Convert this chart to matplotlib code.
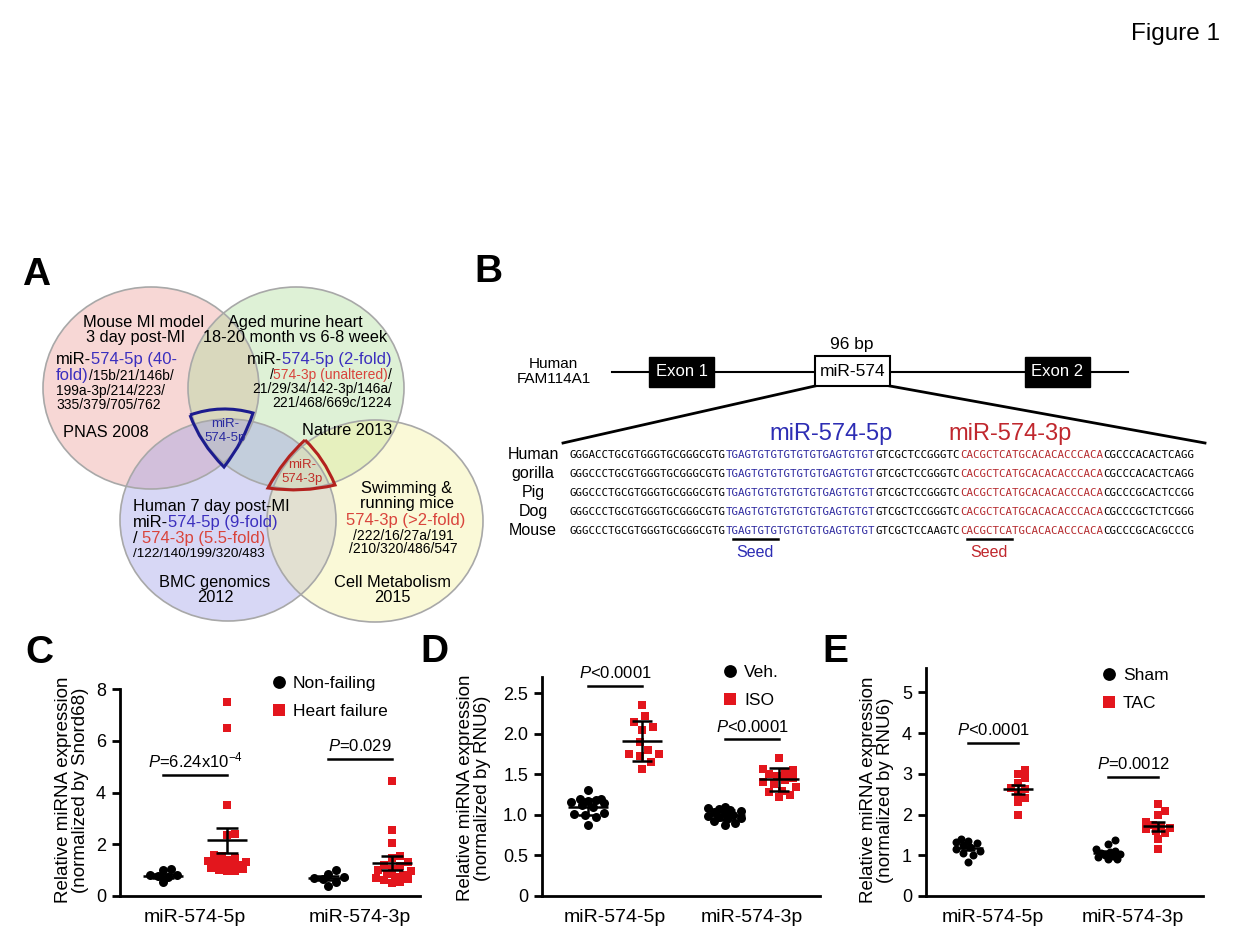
import numpy as np
import matplotlib
matplotlib.use("Agg")
import matplotlib.pyplot as plt
from matplotlib.patches import Ellipse, Rectangle, PathPatch
from matplotlib.path import Path

plt.rcParams['font.family'] = ['Liberation Sans', 'DejaVu Sans']
plt.rcParams['mathtext.fontset'] = 'custom'
plt.rcParams['mathtext.rm'] = 'Liberation Sans'
plt.rcParams['mathtext.it'] = 'Liberation Sans:italic'

BLUE = '#3b2fbe'
RED = '#d9443c'
SEQ_BLUE = '#2e2aa0'
SEQ_RED = '#b52a2e'
PT_RED = '#e3161d'

# ---------------- data ----------------
categories = ['miR-574-5p', 'miR-574-3p']

# C: human hearts (normalized by Snord68)
c_nonfailing_5p = [0.55, 0.75, 0.78, 0.8, 0.82, 1.0, 1.05]
c_nonfailing_3p = [0.4, 0.55, 0.65, 0.7, 0.72, 0.85, 1.0]
c_hf_5p = [7.5, 6.5, 3.5, 2.4, 2.35, 1.6, 1.55, 1.45, 1.4, 1.35, 1.3, 1.3,
           1.25, 1.2, 1.15, 1.1, 1.05, 1.0, 0.95, 0.95]
c_hf_3p = [4.45, 2.55, 2.05, 1.55, 1.45, 1.3, 1.2, 1.15, 1.05, 1.0, 0.95,
           0.85, 0.8, 0.75, 0.7, 0.65, 0.6, 0.55, 0.5]
c_nonfailing_mean = [0.78, 0.68]
c_nonfailing_err = [0.08, 0.08]
c_hf_mean = [2.15, 1.27]
c_hf_err = [0.47, 0.27]
c_pvalue = [r'$\mathit{P}$=6.24x10$^{-4}$', r'$\mathit{P}$=0.029']
c_pline = [4.67, 5.29]

# D: Veh vs ISO (normalized by RNU6)
d_veh_5p = [1.31, 1.2, 1.19, 1.18, 1.17, 1.16, 1.15, 1.12, 1.1, 1.02, 1.01, 1.0, 0.98, 0.88]
d_veh_3p = [1.1, 1.08, 1.07, 1.06, 1.05, 1.04, 1.02, 1.0, 0.99, 0.98, 0.96, 0.95, 0.93, 0.9, 0.87]
d_iso_5p = [2.35, 2.22, 2.15, 2.08, 2.05, 1.9, 1.8, 1.75, 1.72, 1.75, 1.65, 1.57]
d_iso_3p = [1.7, 1.57, 1.55, 1.52, 1.5, 1.48, 1.45, 1.43, 1.4, 1.38, 1.35, 1.3, 1.28, 1.25, 1.22]
d_veh_mean = [1.1, 1.0]
d_veh_err = [0.1, 0.06]
d_iso_mean = [1.91, 1.44]
d_iso_err = [0.25, 0.14]
d_pvalue = [r'$\mathit{P}$<0.0001', r'$\mathit{P}$<0.0001']
d_pline = [2.59, 1.93]

# E: Sham vs TAC (normalized by RNU6)
e_sham_5p = [1.4, 1.35, 1.32, 1.3, 1.25, 1.2, 1.15, 1.1, 1.05, 1.0, 0.83]
e_sham_3p = [1.38, 1.28, 1.15, 1.1, 1.08, 1.05, 1.02, 1.0, 0.98, 0.95, 0.92, 0.9]
e_tac_5p = [3.1, 3.0, 2.9, 2.77, 2.65, 2.62, 2.5, 2.4, 2.3, 1.98]
e_tac_3p = [2.25, 2.1, 1.98, 1.82, 1.75, 1.72, 1.68, 1.65, 1.6, 1.55, 1.4, 1.15]
e_sham_mean = [1.17, 1.06]
e_sham_err = [0.05, 0.04]
e_tac_mean = [2.62, 1.71]
e_tac_err = [0.11, 0.11]
e_pvalue = [r'$\mathit{P}$<0.0001', r'$\mathit{P}$=0.0012']
e_pline = [3.77, 2.92]

# B: pre-miR-574 alignment (black / 5p / loop / 3p / black)
species = ['Human', 'gorilla', 'Pig', 'Dog', 'Mouse']
seq_head = ['GGGACCTGCGTGGGTGCGGGCGTG', 'GGGCCCTGCGTGGGTGCGGGCGTG', 'GGGCCCTGCGTGGGTGCGGGCGTG',
            'GGGCCCTGCGTGGGTGCGGGCGTG', 'GGGCCCTGCGTGGGTGCGGGCGTG']
seq_5p = 'TGAGTGTGTGTGTGTGAGTGTGT'
seq_loop = ['GTCGCTCCGGGTC', 'GTCGCTCCGGGTC', 'GTCGCTCCGGGTC', 'GTCGCTCCGGGTC', 'GTCGCTCCAAGTC']
seq_3p = 'CACGCTCATGCACACACCCACA'
seq_tail = ['CGCCCACACTCAGG', 'CGCCCACACTCAGG', 'CGCCCGCACTCCGG', 'CGCCCGCTCTCGGG', 'CGCCCGCACGCCCG']

# ---------------- figure ----------------
W, H = 1240, 952
fig = plt.figure(figsize=(W / 100, H / 100), dpi=100)
bg = fig.add_axes([0, 0, 1, 1])
bg.set_xlim(0, W)
bg.set_ylim(H, 0)
bg.axis('off')
renderer = fig.canvas.get_renderer()


def color_line(x, y, parts, size, ha='left'):
    """several coloured pieces of text on one baseline"""
    items = []
    for p in parts:
        s, col = p[0], p[1]
        fs = p[2] if len(p) > 2 else size
        t = bg.text(0, y, s, color=col, fontsize=fs, va='baseline', ha='left')
        items.append((t, t.get_window_extent(renderer).width))
    total = sum(w for _, w in items)
    x0 = {'left': x, 'center': x - total / 2, 'right': x - total}[ha]
    for t, w in items:
        t.set_x(x0)
        x0 += w


def say(x, y, s, size, ha='center', color='k', **kw):
    bg.text(x, y, s, fontsize=size, ha=ha, va='baseline', color=color, **kw)


# panel letters
for lab, x, y in [('A', 22, 285), ('B', 474, 282), ('C', 25, 663), ('D', 420, 662), ('E', 822, 662)]:
    say(x, y, lab, 28, ha='left', fontweight='bold')
say(1220, 40, 'Figure 1', 17.5, ha='right')

# ---------------- A: venn ----------------
venn = [((151, 388), '#ed9b96'), ((296, 388), '#addc99'),
        ((228, 520), '#9b9be6'), ((375, 521), '#f3f09b')]
for (cx, cy), col in venn:
    bg.add_patch(Ellipse((cx, cy), 216, 202, fc=col, alpha=0.4, ec='none'))
for (cx, cy), col in venn:
    bg.add_patch(Ellipse((cx, cy), 216, 202, fc='none', ec='#a8a8a8', lw=1.2))


def curved_tri(p1, c1, p2, c2, p3, c3, col):
    verts = [p1, c1, p2, c2, p3, c3, p1]
    codes = [Path.MOVETO] + [Path.CURVE3] * 6
    bg.add_patch(PathPatch(Path(verts, codes), fc='none', ec=col, lw=2.2, joinstyle='miter'))


curved_tri((190, 415), (221, 404), (253, 413), (244, 441), (224, 467), (200, 443), '#1c1c8e')
curved_tri((305, 440), (324, 458), (335, 485), (302, 493), (268, 488), (283, 460), '#b3221e')

VS = 11.8
SM = 10
say(83, 327, 'Mouse MI model', VS, ha='left')
say(86, 342, '3 day post-MI', VS, ha='left')
color_line(56, 364, [('miR-', 'k'), ('574-5p (40-', BLUE)], 12)
color_line(56, 380, [('fold)', BLUE, 12), ('/15b/21/146b/', 'k', SM)], SM)
say(56, 395, '199a-3p/214/223/', SM, ha='left')
say(56, 409, '335/379/705/762', SM, ha='left')
say(63, 437, 'PNAS 2008', VS, ha='left')

say(295, 327, 'Aged murine heart', VS)
say(295, 342, '18-20 month vs 6-8 week', VS)
color_line(392, 364, [('miR-', 'k'), ('574-5p (2-fold)', BLUE)], 12, ha='right')
color_line(392, 379, [('/', 'k'), ('574-3p (unaltered)', RED), ('/', 'k')], SM, ha='right')
say(392, 393, '21/29/34/142-3p/146a/', SM, ha='right')
say(392, 407, '221/468/669c/1224', SM, ha='right')
say(347, 435, 'Nature 2013', VS)

say(225, 427, 'miR-', 9.5, color='#2a2aa0')
say(225, 441, '574-5p', 9.5, color='#2a2aa0')
say(302, 468, 'miR-', 9.5, color='#c0302a')
say(302, 482, '574-3p', 9.5, color='#c0302a')

say(133, 511, 'Human 7 day post-MI', VS, ha='left')
color_line(133, 527, [('miR-', 'k'), ('574-5p (9-fold)', BLUE)], 12)
color_line(133, 543, [('/ ', 'k'), ('574-3p (5.5-fold)', RED)], 12)
say(133, 557, '/122/140/199/320/483', 9.7, ha='left')
say(215, 587, 'BMC genomics', VS)
say(215, 602, '2012', VS)

say(407, 493, 'Swimming &', VS)
say(407, 508, 'running mice', VS)
say(406, 525, '574-3p (>2-fold)', 12, color=RED)
say(403, 540, '/222/16/27a/191', SM)
say(403, 553, '/210/320/486/547', SM)
say(392, 587, 'Cell Metabolism', VS)
say(392, 602, '2015', VS)

# ---------------- B: gene + alignment ----------------
bg.plot([612, 1128], [372, 372], color='k', lw=1.5)
for x0, lab in [(649, 'Exon 1'), (1025, 'Exon 2')]:
    bg.add_patch(Rectangle((x0, 357), 65, 30, fc='k', ec='k'))
    bg.text(x0 + 32.5, 372, lab, color='w', fontsize=12, ha='center', va='center')
bg.add_patch(Rectangle((815, 356), 75, 30, fc='w', ec='k', lw=1.5, zorder=3))
bg.text(852.5, 371, 'miR-574', fontsize=12.5, ha='center', va='center', zorder=4)
say(852, 349, '96 bp', 12.5)
say(553, 368, 'Human', 11)
say(554, 383, 'FAM114A1', 11)
bg.plot([815, 563], [386, 443], color='k', lw=2)
bg.plot([890, 1205], [386, 443], color='k', lw=2)
say(831, 440, 'miR-574-5p', 17, color='#2d2db4')
say(1010, 440, 'miR-574-3p', 17, color='#c0272d')

SEQ_X = 570
mono = dict(family='DejaVu Sans Mono', fontsize=7.85, va='baseline', ha='left')
probe = bg.text(0, 0, 'G' * 100, **mono)
adv = probe.get_window_extent(renderer).width / 100
probe.remove()
for i, sp in enumerate(species):
    yc = 454 + 19 * i
    say(533, yc + 5, sp, 11.5)
    pieces = [(seq_head[i], 'k'), (seq_5p, SEQ_BLUE), (seq_loop[i], 'k'),
              (seq_3p, SEQ_RED), (seq_tail[i], 'k')]
    n = 0
    for s, col in pieces:
        bg.text(SEQ_X + n * adv, yc + 4, s, color=col, **mono)
        n += len(s)

# seed marks (positions 2-8 of each mature strand)
n5 = len(seq_head[-1])
n3s = n5 + len(seq_5p) + len(seq_loop[-1])
for start, col in [(n5 + 1, '#2d2db4'), (n3s + 1, '#c0272d')]:
    xa, xb = SEQ_X + start * adv, SEQ_X + (start + 7) * adv
    bg.plot([xa, xb], [539, 539], color='k', lw=1.8)
    say((xa + xb) / 2, 557, 'Seed', 11.5, color=col)


# ---------------- C-E: dot plots ----------------
def swarm_x(values, center, ppx, ppy, diam, thr, maxw):
    # spread overlapping points sideways, but never wider than +-maxw px
    vals = np.asarray(values, float)
    xs = np.full(len(vals), float(center))
    placed = []
    step = diam * 0.3
    cands = [0.0]
    k = 1
    while k * step <= maxw:
        cands += [k * step, -k * step]
        k += 1
    for i in np.argsort(vals):
        y = vals[i] * ppy
        best, best_d = 0.0, -1
        for dx in cands:
            d = min([np.hypot(dx - qx, y - qy) for qx, qy in placed] + [1e9])
            if d >= thr * diam:
                best = dx
                break
            if d > best_d + 0.5:
                best, best_d = dx, d
        placed.append((best, y))
        xs[i] = center + best / ppx
    return xs


def dot_panel(rect, xlim, ylim, yticks, yticklabels, ctrl, treat, ctrl_mean, ctrl_err,
              treat_mean, treat_err, pvalue, pline, off, hw, cw, diam, thr, maxw):
    left, top, right, bottom = rect
    ax = fig.add_axes([left / W, 1 - bottom / H, (right - left) / W, (bottom - top) / H])
    ax.set_xlim(*xlim)
    ax.set_ylim(*ylim)
    ppx = (right - left) / (xlim[1] - xlim[0])
    ppy = (bottom - top) / (ylim[1] - ylim[0])
    for i in range(2):
        c = i + 1
        xs = swarm_x(ctrl[i], c - off, ppx, ppy, diam, thr, maxw)
        ax.scatter(xs, ctrl[i], marker='o', s=(diam * 0.72) ** 2, c='k', linewidths=0, zorder=2, clip_on=False)
        xs = swarm_x(treat[i], c + off, ppx, ppy, diam, thr, maxw)
        ax.scatter(xs, treat[i], marker='s', s=(diam * 0.64) ** 2, c=PT_RED, linewidths=0, zorder=2, clip_on=False)
        for x, m, e in [(c - off, ctrl_mean[i], ctrl_err[i]), (c + off, treat_mean[i], treat_err[i])]:
            ax.hlines(m, x - hw / ppx, x + hw / ppx, colors='k', lw=1.8, zorder=3)
            ax.vlines(x, m - e, m + e, colors='k', lw=1.8, zorder=3)
            ax.hlines([m - e, m + e], x - cw / ppx, x + cw / ppx, colors='k', lw=1.8, zorder=3)
        ax.plot([c - off, c + off], [pline[i], pline[i]], color='k', lw=1.8, clip_on=False)
        ax.annotate(pvalue[i], xy=(c, pline[i]), xytext=(0, 5.5), textcoords='offset points',
                    ha='center', va='baseline', fontsize=12, annotation_clip=False)
    for s in ['top', 'right']:
        ax.spines[s].set_visible(False)
    for s in ['left', 'bottom']:
        ax.spines[s].set_linewidth(2)
    ax.set_xticks([1, 2])
    ax.set_xticklabels(categories, fontsize=14)
    ax.tick_params(axis='x', length=0, pad=9)
    ax.set_yticks(yticks)
    ax.set_yticklabels(yticklabels, fontsize=13)
    ax.tick_params(axis='y', length=6, width=2, direction='out', pad=4)
    ax.patch.set_alpha(0)
    return ax


dot_panel((120, 689, 420, 896), (0.545, 2.364), (0, 8), [0, 2, 4, 6, 8], ['0', '2', '4', '6', '8'],
          [c_nonfailing_5p, c_nonfailing_3p], [c_hf_5p, c_hf_3p], c_nonfailing_mean, c_nonfailing_err,
          c_hf_mean, c_hf_err, c_pvalue, c_pline, 0.194, 20, 11, 9, 0.8, 19)
dot_panel((542, 677, 820, 896), (0.467, 2.496), (0, 2.7), [0, 0.5, 1.0, 1.5, 2.0, 2.5],
          ['0', '0.5', '1.0', '1.5', '2.0', '2.5'],
          [d_veh_5p, d_veh_3p], [d_iso_5p, d_iso_3p], d_veh_mean, d_veh_err,
          d_iso_mean, d_iso_err, d_pvalue, d_pline, 0.2, 20, 10, 9, 1.1, 18)
dot_panel((926, 668, 1203, 896), (0.521, 2.5), (0, 5.6), [0, 1, 2, 3, 4, 5], ['0', '1', '2', '3', '4', '5'],
          [e_sham_5p, e_sham_3p], [e_tac_5p, e_tac_3p], e_sham_mean, e_sham_err,
          e_tac_mean, e_tac_err, e_pvalue, e_pline, 0.18, 15, 7, 8, 1.0, 14)

# y labels
for x, y, norm in [(72, 790, 'Snord68'), (474, 788, 'RNU6'), (877, 790, 'RNU6')]:
    bg.text(x, y, 'Relative miRNA expression\n(normalized by %s)' % norm, fontsize=13.5,
            rotation=90, ha='center', va='center', linespacing=1.07, multialignment='center')

# legends
for x, y, labs in [(279, 682, ['Non-failing', 'Heart failure']), (730, 671, ['Veh.', 'ISO']),
                   (1109, 674, ['Sham', 'TAC'])]:
    bg.scatter([x], [y], marker='o', s=85, c='k', linewidths=0)
    bg.scatter([x], [y + 28], marker='s', s=75, c=PT_RED, linewidths=0)
    say(x + 14, y + 6, labs[0], 12.5, ha='left')
    say(x + 14, y + 34, labs[1], 12.5, ha='left')

fig.savefig('out.png', dpi=100)
